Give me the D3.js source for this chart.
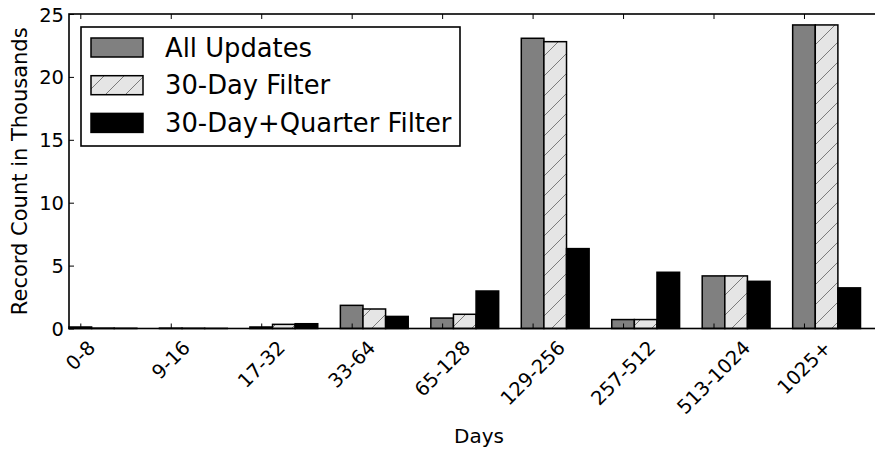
<!DOCTYPE html>
<html>
<head>
<meta charset="utf-8">
<script src="https://cdn.jsdelivr.net/npm/d3@7"></script>
<style>
  html, body { margin: 0; padding: 0; background: #fff; }
  svg { display: block; font-family: "DejaVu Sans", sans-serif; }
</style>
</head>
<body>
<svg id="chart" width="875" height="449"></svg>
<script>
// Record counts (thousands) per age bucket, for three filtering stages
const categories = ["0-8", "9-16", "17-32", "33-64", "65-128", "129-256", "257-512", "513-1024", "1025+"];
const allUpdates       = [0.12, 0.03, 0.12, 1.84, 0.83, 23.07, 0.71, 4.18, 24.13];
const thirtyDayFilter  = [0.03, 0.02, 0.33, 1.55, 1.13, 22.80, 0.71, 4.18, 24.13];
const quarterFilter    = [0.02, 0.01, 0.38, 0.96, 2.98, 6.35, 4.47, 3.75, 3.23];
const yTicks = [0, 5, 10, 15, 20, 25];
const seriesNames = ["All Updates", "30-Day Filter", "30-Day+Quarter Filter"];

const svg = d3.select("#chart");

const plot = { left: 69, right: 889, top: 14, bottom: 328.5 };
const barWidth = 0.25;

const x = d3.scaleLinear().domain([-0.125, 8.94]).range([plot.left, plot.right]);
const y = d3.scaleLinear().domain([0, 25]).range([plot.bottom, plot.top]);

// Diagonal hatch for the 30-day series
const defs = svg.append("defs");
const pat = defs.append("pattern")
  .attr("id", "hatch")
  .attr("patternUnits", "userSpaceOnUse")
  .attr("width", 20).attr("height", 20);
pat.append("rect").attr("width", 20).attr("height", 20).attr("fill", "#e5e5e5");
pat.append("path")
  .attr("d", "M-5,5 L5,-5 M0,20 L20,0 M15,25 L25,15")
  .attr("stroke", "#7a7a7a").attr("stroke-width", 1).attr("fill", "none");

const series = [
  { name: seriesNames[0], values: allUpdates, offset: 0, fill: "#808080" },
  { name: seriesNames[1], values: thirtyDayFilter, offset: 0.25, fill: "url(#hatch)" },
  { name: seriesNames[2], values: quarterFilter, offset: 0.5, fill: "#000000" }
];

// Bars
series.forEach(s => {
  svg.append("g")
    .selectAll("rect")
    .data(s.values)
    .join("rect")
    .attr("x", (d, i) => x(i + s.offset - barWidth / 2))
    .attr("width", (d, i) => x(i + s.offset + barWidth / 2) - x(i + s.offset - barWidth / 2))
    .attr("y", d => y(d))
    .attr("height", d => y(0) - y(d))
    .attr("fill", s.fill)
    .attr("stroke", "#000")
    .attr("stroke-width", 1.5);
});

// Inward ticks on bottom and top
const idx = categories.map((c, i) => i);
const bottomAxis = svg.append("g")
  .attr("transform", `translate(0,${plot.bottom})`)
  .call(d3.axisBottom(x).tickValues(idx).tickSizeInner(-5).tickSizeOuter(0).tickFormat(i => categories[i]));
const topAxis = svg.append("g")
  .attr("transform", `translate(0,${plot.top})`)
  .call(d3.axisTop(x).tickValues(idx).tickSizeInner(-5).tickSizeOuter(0).tickFormat(""));
const leftAxis = svg.append("g")
  .attr("transform", `translate(${plot.left},0)`)
  .call(d3.axisLeft(y).tickValues(yTicks).tickSizeInner(-5).tickSizeOuter(0).tickFormat(d3.format("d")));

[bottomAxis, topAxis, leftAxis].forEach(g => {
  g.select(".domain").remove();
  g.selectAll(".tick line").attr("stroke", "#000").attr("stroke-width", 1);
});

leftAxis.selectAll(".tick text")
  .attr("x", -5)
  .attr("dy", "0.36em")
  .attr("font-size", 19.5)
  .attr("font-family", "DejaVu Sans")
  .attr("fill", "#000");

// Rotated category labels, centred under each tick
const tickFont = 19.5;
bottomAxis.selectAll(".tick text")
  .attr("font-size", tickFont)
  .attr("font-family", "DejaVu Sans")
  .attr("fill", "#000")
  .attr("text-anchor", "middle")
  .attr("dy", "0.32em")
  .attr("y", 0)
  .each(function () {
    const w = this.getComputedTextLength();
    const h = tickFont * 1.164;
    const span = (w + h) * Math.SQRT1_2;
    const cy = 336.5 - plot.bottom + span / 2;
    d3.select(this).attr("transform", `translate(0,${cy}) rotate(-45)`);
  });

// Frame
svg.append("rect")
  .attr("x", plot.left).attr("y", plot.top)
  .attr("width", plot.right - plot.left).attr("height", plot.bottom - plot.top)
  .attr("fill", "none").attr("stroke", "#000").attr("stroke-width", 1.6);

// Axis titles
svg.append("text")
  .attr("x", (plot.left + plot.right) / 2).attr("y", 443)
  .attr("text-anchor", "middle").attr("font-size", 20)
  .text("Days");
svg.append("text")
  .attr("transform", `translate(27,${(plot.top + plot.bottom) / 2}) rotate(-90)`)
  .attr("text-anchor", "middle").attr("font-size", 21)
  .text("Record Count in Thousands");

// Legend
const legend = svg.append("g");
legend.append("rect")
  .attr("x", 81).attr("y", 27).attr("width", 379).attr("height", 119)
  .attr("fill", "#fff").attr("stroke", "#000").attr("stroke-width", 1.6);
series.forEach((s, i) => {
  const cy = 47.5 + i * 37.7;
  legend.append("rect")
    .attr("x", 91).attr("y", cy - 9.5).attr("width", 52).attr("height", 19)
    .attr("fill", s.fill).attr("stroke", "#000").attr("stroke-width", 1.5);
  legend.append("text")
    .attr("x", 165).attr("y", cy).attr("dy", "0.36em")
    .attr("font-size", 25.8)
    .text(s.name);
});
</script>
</body>
</html>
